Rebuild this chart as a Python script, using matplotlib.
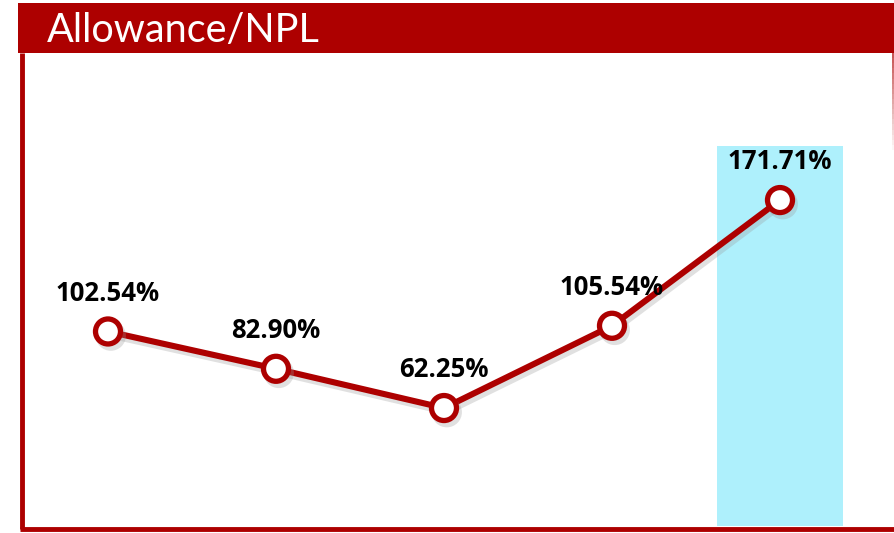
import matplotlib.pyplot as plt
import matplotlib.patheffects as pe
from matplotlib.patches import Rectangle
from matplotlib.lines import Line2D
import numpy as np

# chart data
title = "Allowance/NPL"
periods = ["P1", "P2", "P3", "P4", "P5"]
ratio = [102.54, 82.90, 62.25, 105.54, 171.71]
labels = ["102.54%", "82.90%", "62.25%", "105.54%", "171.71%"]
highlight_idx = 4

RED = "#AD0000"
CYAN = "#AEF0FC"

W, H = 895, 533
fig = plt.figure(figsize=(W / 100, H / 100), dpi=100)
fig.patch.set_facecolor("white")

def fx(px):
    return px / W

def fy(py):
    return 1 - py / H

# plotting area: x from left border to right edge, y from header bottom to baseline
ax_left, ax_right = 22, 895
ax_top, ax_bot = 53, 526.3
ax = fig.add_axes([fx(ax_left), fy(ax_bot), fx(ax_right - ax_left), (ax_bot - ax_top) / H])
ax.set_axis_off()

x = np.arange(len(periods))
px_per_cat = 168.0
x0_px = 108
ax.set_xlim((ax_left - x0_px) / px_per_cat, (ax_right - x0_px) / px_per_cat)
ax.set_ylim(0, (ax_bot - ax_top) / 1.9)

# highlighted last period
ax.add_patch(Rectangle((x[highlight_idx] - 0.375, 0), 0.75, (ax_bot - 146) / 1.9,
                       facecolor=CYAN, edgecolor="none", zorder=1))

ax.plot(x, ratio, color=RED, lw=4.4, marker="o", ms=18, mfc="white", mec=RED, mew=3.8,
        zorder=3, solid_capstyle="round",
        path_effects=[pe.SimpleLineShadow(offset=(2, -3), shadow_color="#999999", alpha=0.3),
                      pe.Normal()])

for xi, yi, lab in zip(x, ratio, labels):
    ax.annotate(lab, (xi, yi), xytext=(0, 27.5), textcoords="offset points",
                ha="center", va="center", fontsize=18.5, fontweight="bold",
                family="Open Sans", color="black", zorder=4)

# frame: header bar, left and bottom borders, faded right edge
fig.add_artist(Rectangle((fx(18), fy(53)), 1 - fx(18), (53 - 3) / H,
                         facecolor=RED, edgecolor="none", transform=fig.transFigure,
                         zorder=1))
fig.text(fx(47), fy(30), title, color="white", fontsize=28.5, family="Lato",
         ha="left", va="center", zorder=5)
fig.add_artist(Line2D([fx(22), fx(22)], [fy(53), fy(529)], color=RED, lw=3.5,
                      transform=fig.transFigure, solid_capstyle="butt"))
fig.add_artist(Line2D([fx(20.5), 1], [fy(529), fy(529)], color=RED, lw=3.5,
                      transform=fig.transFigure, solid_capstyle="butt"))
edge_y = np.linspace(53, 150, 20)
for i in range(len(edge_y) - 1):
    fig.add_artist(Line2D([fx(893.5), fx(893.5)], [fy(edge_y[i]), fy(edge_y[i + 1])],
                          color=RED, lw=1.2, alpha=0.8 * (1 - i / (len(edge_y) - 1)),
                          transform=fig.transFigure, solid_capstyle="butt"))

fig.savefig("out.png", dpi=100)
